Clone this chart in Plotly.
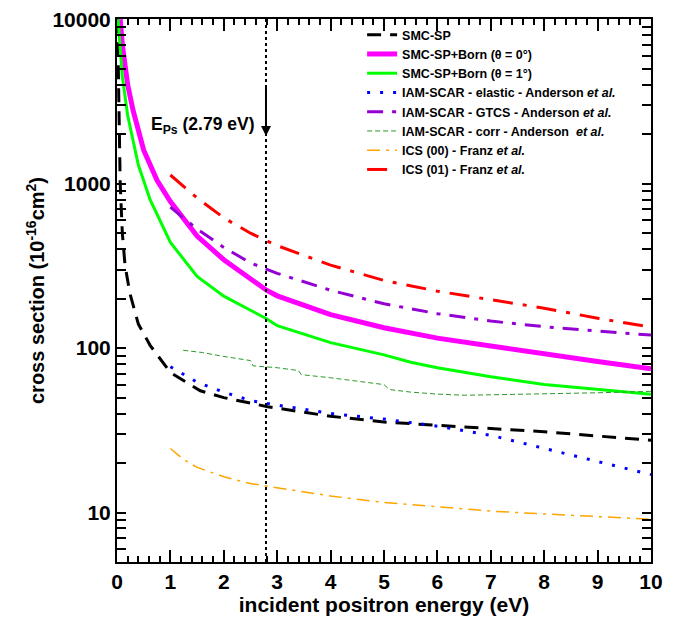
import plotly.graph_objects as go
import math

# ---- data ----
smc_x = [0.01, 0.03, 0.06, 0.1, 0.15, 0.24, 0.4, 0.62, 1.0, 1.56, 2.0, 2.82, 4.0, 5.0, 6.0, 7.0, 8.0, 9.0, 10.0]
smc_y = [10000, 3000, 1000, 500, 320, 216, 140, 104, 71, 55, 50, 44, 38.5, 35.5, 34, 32.5, 31, 29.2, 27.5]

born0_x = [0.06, 0.1, 0.2, 0.3, 0.5, 0.75, 1.0, 1.5, 2.0, 2.5, 2.8, 3.0, 3.5, 4.0, 5.0, 6.0, 7.0, 8.0, 9.0, 10.0]
born0_y = [10000, 7000, 4000, 2800, 1600, 1050, 780, 480, 345, 265, 225, 208, 182, 160, 133, 115, 103, 92, 83, 75]

born1_x = [0.02, 0.05, 0.1, 0.2, 0.4, 0.62, 1.0, 1.5, 2.0, 2.5, 2.8, 3.0, 3.5, 4.0, 5.0, 5.5, 6.0, 7.0, 8.0, 9.0, 10.0]
born1_y = [10000, 7000, 4500, 2600, 1300, 800, 440, 273, 207, 170, 151, 137, 122, 108, 91, 82, 76, 67, 60, 56, 52.4]

elastic_x = [1.0, 1.5, 2.0, 2.5, 3.0, 4.0, 5.0, 6.0, 7.0, 8.0, 9.0, 10.0]
elastic_y = [77, 62, 54, 48, 45, 40, 37, 33.5, 29.5, 24.5, 20.5, 17]

gtcs_x = [1.0, 1.5, 2.0, 2.5, 3.0, 4.0, 5.0, 6.0, 7.0, 8.0, 9.0, 10.0]
gtcs_y = [720, 530, 410, 330, 285, 225, 186, 162, 146, 135, 127, 120]

corr_x = [1.24, 1.6, 2.0, 2.5, 2.55, 3.0, 3.4, 3.45, 4.0, 4.5, 5.0, 5.1, 5.5, 6.0, 6.5, 7.0, 8.0, 9.0, 10.0]
corr_y = [97, 94, 89, 84, 78, 76, 73, 69, 66, 63, 60, 56, 54, 52.5, 51.7, 52, 52.5, 53.5, 54.6]

ics00_x = [1.0, 1.25, 1.5, 2.0, 2.5, 3.0, 4.0, 5.0, 6.0, 7.0, 8.0, 9.0, 10.0]
ics00_y = [24.5, 21, 18.8, 16.5, 15, 14.2, 12.6, 11.5, 10.8, 10.2, 9.8, 9.4, 9.1]

ics01_x = [1.0, 1.5, 2.0, 2.5, 3.0, 4.0, 5.0, 6.0, 7.0, 8.0, 9.0, 10.0]
ics01_y = [1130, 820, 620, 500, 420, 320, 258, 222, 197, 175, 152, 134]

e_ps = 2.79
x_ticks = list(range(0, 11))
y_decades = [10, 100, 1000, 10000]

FONT = "Liberation Sans, Arial, Helvetica, sans-serif"

series = [
    ("SMC-SP", smc_x, smc_y, dict(color="black", width=3, dash="14px,9px")),
    ("SMC-SP+Born (\u03b8 = 0\u00b0)", born0_x, born0_y, dict(color="#ff00ff", width=5)),
    ("SMC-SP+Born (\u03b8 = 1\u00b0)", born1_x, born1_y, dict(color="#00ff00", width=3)),
    ("IAM-SCAR - elastic - Anderson <i>et al.</i>", elastic_x, elastic_y, dict(color="#0000ff", width=3, dash="3px,10px")),
    ("IAM-SCAR - GTCS - Anderson <i>et al.</i>", gtcs_x, gtcs_y, dict(color="#9400d3", width=3, dash="16px,9px,4px,9px")),
    ("IAM-SCAR - corr - Anderson  <i>et al.</i>", corr_x, corr_y, dict(color="#2a9a2a", width=1, dash="5px,3px")),
    ("ICS (00) - Franz <i>et al.</i>", ics00_x, ics00_y, dict(color="#ffa500", width=1.5, dash="13px,6px,3px,6px")),
    ("ICS (01) - Franz <i>et al.</i>", ics01_x, ics01_y, dict(color="#ff0000", width=3, dash="20px,10px,4px,10px")),
]

fig = go.Figure()
for name, xs, ys, line in series:
    fig.add_trace(go.Scatter(x=xs, y=ys, mode="lines", name=name, line=line))

fig.add_vline(x=e_ps, line=dict(color="black", width=2, dash="dot"))

fig.add_annotation(x=e_ps, y=math.log10(1950), ax=e_ps, ay=math.log10(3900),
                   xref="x", yref="y", axref="x", ayref="y",
                   showarrow=True, arrowhead=2, arrowsize=1, arrowwidth=2, arrowcolor="black", text="")
fig.add_annotation(x=2.63, y=math.log10(2250), xref="x", yref="y", xanchor="right", yanchor="middle",
                   showarrow=False, text="<b>E<sub>Ps</sub> (2.79 eV)</b>",
                   font=dict(family=FONT, size=17.5, color="black"))

# log-axis tick positions: decades labelled, 2..9 within each decade unlabelled
y_tickvals = [m * 10 ** d for d in range(0, 4) for m in range(1, 10) if 5 <= m * 10 ** d <= 10000] + [10000]
y_tickvals = sorted(set(y_tickvals))
y_ticktext = ["<b>%d</b>" % v if v in y_decades else "" for v in y_tickvals]

tick_font = dict(family=FONT, size=21, color="black")

fig.update_xaxes(range=[0, 10], tickmode="array", tickvals=x_ticks,
                 ticktext=["<b>%d</b>" % v for v in x_ticks],
                 showline=True, linecolor="black", linewidth=2, mirror="ticks",
                 ticks="inside", ticklen=12, tickcolor="black", tickwidth=2,
                 gridcolor="rgba(0,0,0,0)", zerolinecolor="black", zerolinewidth=2,
                 minor=dict(ticks="inside", dtick=0.2, ticklen=6, tickcolor="black", tickwidth=1.5,
                            gridcolor="rgba(0,0,0,0)"),
                 tickfont=tick_font, ticklabeloverflow="allow",
                 title=dict(text="<b>incident positron energy (eV)</b>", standoff=4,
                            font=dict(family=FONT, size=21, color="black")))
fig.update_yaxes(type="log", range=[math.log10(5), 4.002], tickmode="array",
                 tickvals=y_tickvals, ticktext=y_ticktext,
                 showline=True, linecolor="black", linewidth=2, mirror="ticks",
                 ticks="inside", ticklen=9, tickcolor="black", tickwidth=2,
                 gridcolor="rgba(0,0,0,0)",
                 tickfont=tick_font, ticklabeloverflow="allow",
                 title=dict(text="<b>cross section (10<sup>-16</sup>cm<sup>2</sup>)</b>", standoff=2,
                            font=dict(family=FONT, size=20, color="black")))

fig.update_layout(
    width=685, height=620,
    margin=dict(l=117, r=34, t=8, b=57),
    plot_bgcolor="white", paper_bgcolor="white",
    showlegend=True,
    legend=dict(x=0.459, y=0.998, xanchor="left", yanchor="top", bgcolor="rgba(0,0,0,0)",
                font=dict(family=FONT, size=12.5, color="black", weight="bold"),
                tracegroupgap=0, itemwidth=30),
)

fig.write_html("out.html")
